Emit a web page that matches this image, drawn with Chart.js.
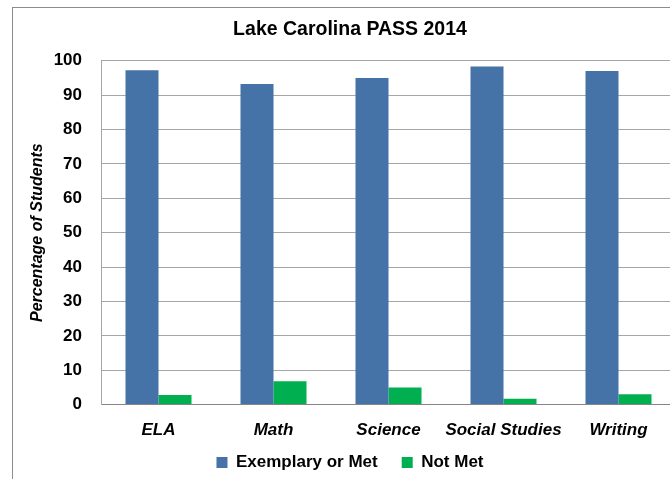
<!DOCTYPE html>
<html lang="en">
<head>
    <meta charset="UTF-8">
    <title>Lake Carolina PASS 2014</title>
    <script src="https://cdn.jsdelivr.net/npm/chart.js"></script>
    <style>
        html, body { margin: 0; padding: 0; background: #fff; overflow: hidden; }
        #wrap { position: relative; width: 676px; height: 508px; }
    </style>
</head>
<body>
    <div id="wrap"><canvas id="passChart"></canvas></div>

    <script>
        // chart data
        const subjects = ['ELA', 'Math', 'Science', 'Social Studies', 'Writing'];
        const exemplaryOrMet = [97.2, 93.2, 95, 98.3, 97];
        const notMet = [2.8, 6.8, 5, 1.7, 3];
        const yTicks = [0, 10, 20, 30, 40, 50, 60, 70, 80, 90, 100];

        const FONT = "'Liberation Sans', Arial, sans-serif";

        // grey frame around the chart, like the spreadsheet chart border
        const framePlugin = {
            id: 'frame',
            beforeDraw(chart) {
                const ctx = chart.ctx;
                ctx.save();
                ctx.fillStyle = '#fff';
                ctx.fillRect(0, 0, chart.width, chart.height);
                ctx.strokeStyle = '#8c8c8c';
                ctx.lineWidth = 1;
                ctx.strokeRect(12.5, 7.5, chart.width + 20, chart.height + 20);
                ctx.restore();
            }
        };

        // legend sits closer to the category labels than the layout allows
        const legendNudge = {
            id: 'legendNudge',
            afterLayout(chart) {
                const lg = chart.legend;
                if (lg) { lg.top -= 27; lg.bottom -= 27; }
            }
        };

        const ctx = document.getElementById('passChart').getContext('2d');
        const passChart = new Chart(ctx, {
            type: 'bar',
            data: {
                labels: subjects,
                datasets: [{
                    label: 'Exemplary or Met',
                    data: exemplaryOrMet,
                    backgroundColor: '#4572a7'
                }, {
                    label: 'Not Met',
                    data: notMet,
                    backgroundColor: '#00b050'
                }]
            },
            options: {
                responsive: true,
                maintainAspectRatio: false,
                animation: false,
                layout: { padding: { left: 24, right: 0, top: 0, bottom: 0 } },
                datasets: {
                    bar: { categoryPercentage: 0.574, barPercentage: 1.0 }
                },
                plugins: {
                    title: {
                        display: true,
                        text: 'Lake Carolina PASS 2014',
                        color: '#000',
                        font: { family: FONT, size: 19.5, weight: 'bold', lineHeight: 1.2 },
                        padding: { top: 18, bottom: 19.3 }
                    },
                    legend: {
                        position: 'bottom',
                        labels: {
                            color: '#000',
                            boxWidth: 11,
                            boxHeight: 11,
                            padding: 24,
                            font: { family: FONT, size: 17, weight: 'bold' }
                        }
                    },
                    tooltip: { enabled: false }
                },
                scales: {
                    x: {
                        grid: { display: false, drawTicks: false },
                        border: { display: true, color: '#868686', width: 1 },
                        ticks: {
                            color: '#000',
                            padding: 16,
                            autoSkip: false,
                            minRotation: 0,
                            maxRotation: 0,
                            font: { family: FONT, size: 17, weight: 'bold', style: 'italic', lineHeight: 1.2 }
                        }
                    },
                    y: {
                        min: 0,
                        max: 100,
                        afterBuildTicks(scale) {
                            scale.ticks = yTicks.map(v => ({ value: v }));
                        },
                        grid: { color: '#a6a6a6', drawTicks: false },
                        border: { display: true, color: '#a6a6a6' },
                        ticks: {
                            color: '#000',
                            padding: 19,
                            font: { family: FONT, size: 17, weight: 'bold' }
                        },
                        title: {
                            display: true,
                            text: 'Percentage of Students',
                            color: '#000',
                            padding: { top: 4, bottom: 4 },
                            font: { family: FONT, size: 16, weight: 'bold', style: 'italic', lineHeight: 1.2 }
                        },
                        afterFit(scale) { scale.width = 77; }
                    }
                }
            },
            plugins: [framePlugin, legendNudge]
        });
    </script>
</body>
</html>
